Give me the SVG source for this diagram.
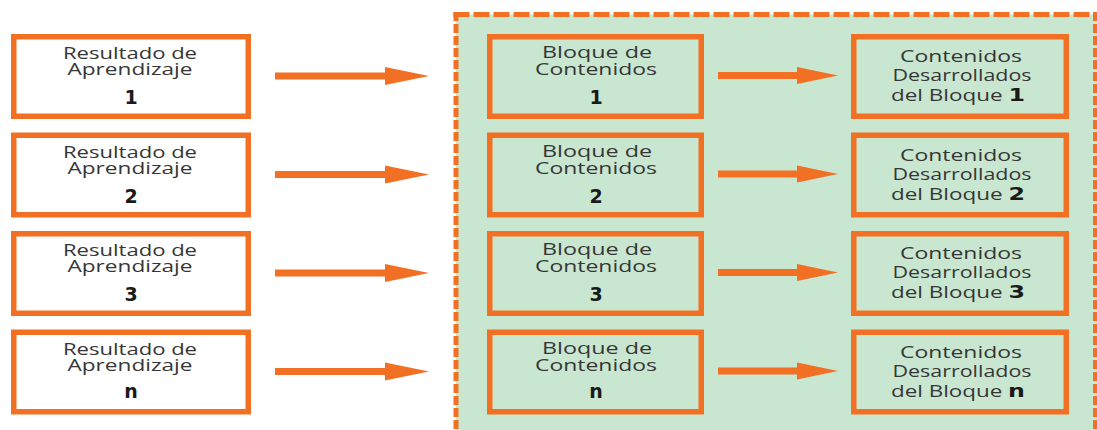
<svg xmlns="http://www.w3.org/2000/svg" width="1097" height="430" viewBox="0 0 1097 430">
<defs>
<style>
.box{fill:#ffffff;stroke:#f27024;stroke-width:5.5}
.gbox{fill:#c9e6d1;stroke:#f27024;stroke-width:5.5}
.t{font-family:"Open Sans","Noto Sans",sans-serif;font-size:17px;fill:#363636;text-anchor:middle}
.n{font-family:"DejaVu Sans","Noto Sans",sans-serif;font-size:19px;font-weight:bold;fill:#1a1a1a;text-anchor:middle}
.ni{font-family:"DejaVu Sans","Noto Sans",sans-serif;font-size:18px;font-weight:bold;fill:#1a1a1a}
.shaft{stroke:#f27024;stroke-width:7;fill:none}
.head{fill:#f27024}
.dash{stroke:#f27024;stroke-width:5;fill:none}
</style>
</defs>
<rect x="0" y="0" width="1097" height="430" fill="#ffffff"/>
<g id="region">
<rect x="456" y="14.5" width="641" height="420" fill="#c9e6d1"/>
<line class="dash" x1="453.5" y1="14.5" x2="1097" y2="14.5" stroke-dasharray="16,4"/>
<line class="dash" x1="456" y1="12" x2="456" y2="430" stroke-dasharray="9,3"/>
<line class="dash" x1="1095.5" y1="12" x2="1095.5" y2="430" stroke-dasharray="9,3"/>
</g>
<g id="connectors">
<g><line class="shaft" x1="275" y1="76" x2="390" y2="76"/><polygon class="head" points="385,67 429,76 385,85"/></g>
<g><line class="shaft" x1="718" y1="75.5" x2="800" y2="75.5"/><polygon class="head" points="797,67 838,75.5 797,84"/></g>
<g><line class="shaft" x1="275" y1="174.5" x2="390" y2="174.5"/><polygon class="head" points="385,165.5 429,174.5 385,183.5"/></g>
<g><line class="shaft" x1="718" y1="174" x2="800" y2="174"/><polygon class="head" points="797,165.5 838,174 797,182.5"/></g>
<g><line class="shaft" x1="275" y1="273" x2="390" y2="273"/><polygon class="head" points="385,264 429,273 385,282"/></g>
<g><line class="shaft" x1="718" y1="272.5" x2="800" y2="272.5"/><polygon class="head" points="797,264 838,272.5 797,281"/></g>
<g><line class="shaft" x1="275" y1="371.5" x2="390" y2="371.5"/><polygon class="head" points="385,362.5 429,371.5 385,380.5"/></g>
<g><line class="shaft" x1="718" y1="371" x2="800" y2="371"/><polygon class="head" points="797,362.5 838,371 797,379.5"/></g>
</g>
<g id="r1"><rect class="box" x="13.75" y="36.75" width="234.5" height="79.5"/><text class="t" x="130" y="59" textLength="134" lengthAdjust="spacingAndGlyphs">Resultado de</text><text class="t" x="130" y="75" textLength="125" lengthAdjust="spacingAndGlyphs">Aprendizaje</text><text class="n" x="131" y="104">1</text></g>
<g id="b1"><rect class="gbox" x="489.75" y="36.75" width="211.5" height="79.5"/><text class="t" x="597" y="58" textLength="110" lengthAdjust="spacingAndGlyphs">Bloque de</text><text class="t" x="596" y="75" textLength="122" lengthAdjust="spacingAndGlyphs">Contenidos</text><text class="n" x="596" y="104">1</text></g>
<g id="c1"><rect class="gbox" x="853.75" y="36.75" width="212.5" height="79.5"/><text class="t" x="961" y="62" textLength="122" lengthAdjust="spacingAndGlyphs">Contenidos</text><text class="t" x="962" y="81" textLength="139" lengthAdjust="spacingAndGlyphs">Desarrollados</text><text class="t" x="958" y="101" textLength="134" lengthAdjust="spacingAndGlyphs">del Bloque <tspan class="ni">1</tspan></text></g>
<g id="r2" transform="translate(0,98.5)"><rect class="box" x="13.75" y="36.75" width="234.5" height="79.5"/><text class="t" x="130" y="59" textLength="134" lengthAdjust="spacingAndGlyphs">Resultado de</text><text class="t" x="130" y="75" textLength="125" lengthAdjust="spacingAndGlyphs">Aprendizaje</text><text class="n" x="131" y="104">2</text></g>
<g id="b2" transform="translate(0,98.5)"><rect class="gbox" x="489.75" y="36.75" width="211.5" height="79.5"/><text class="t" x="597" y="58" textLength="110" lengthAdjust="spacingAndGlyphs">Bloque de</text><text class="t" x="596" y="75" textLength="122" lengthAdjust="spacingAndGlyphs">Contenidos</text><text class="n" x="596" y="104">2</text></g>
<g id="c2" transform="translate(0,98.5)"><rect class="gbox" x="853.75" y="36.75" width="212.5" height="79.5"/><text class="t" x="961" y="62" textLength="122" lengthAdjust="spacingAndGlyphs">Contenidos</text><text class="t" x="962" y="81" textLength="139" lengthAdjust="spacingAndGlyphs">Desarrollados</text><text class="t" x="958" y="101" textLength="134" lengthAdjust="spacingAndGlyphs">del Bloque <tspan class="ni">2</tspan></text></g>
<g id="r3" transform="translate(0,197)"><rect class="box" x="13.75" y="36.75" width="234.5" height="79.5"/><text class="t" x="130" y="59" textLength="134" lengthAdjust="spacingAndGlyphs">Resultado de</text><text class="t" x="130" y="75" textLength="125" lengthAdjust="spacingAndGlyphs">Aprendizaje</text><text class="n" x="131" y="104">3</text></g>
<g id="b3" transform="translate(0,197)"><rect class="gbox" x="489.75" y="36.75" width="211.5" height="79.5"/><text class="t" x="597" y="58" textLength="110" lengthAdjust="spacingAndGlyphs">Bloque de</text><text class="t" x="596" y="75" textLength="122" lengthAdjust="spacingAndGlyphs">Contenidos</text><text class="n" x="596" y="104">3</text></g>
<g id="c3" transform="translate(0,197)"><rect class="gbox" x="853.75" y="36.75" width="212.5" height="79.5"/><text class="t" x="961" y="62" textLength="122" lengthAdjust="spacingAndGlyphs">Contenidos</text><text class="t" x="962" y="81" textLength="139" lengthAdjust="spacingAndGlyphs">Desarrollados</text><text class="t" x="958" y="101" textLength="134" lengthAdjust="spacingAndGlyphs">del Bloque <tspan class="ni">3</tspan></text></g>
<g id="r4" transform="translate(0,295.5)"><rect class="box" x="13.75" y="36.75" width="234.5" height="79.5"/><text class="t" x="130" y="59" textLength="134" lengthAdjust="spacingAndGlyphs">Resultado de</text><text class="t" x="130" y="75" textLength="125" lengthAdjust="spacingAndGlyphs">Aprendizaje</text><text class="n" x="131" y="102">n</text></g>
<g id="b4" transform="translate(0,295.5)"><rect class="gbox" x="489.75" y="36.75" width="211.5" height="79.5"/><text class="t" x="597" y="58" textLength="110" lengthAdjust="spacingAndGlyphs">Bloque de</text><text class="t" x="596" y="75" textLength="122" lengthAdjust="spacingAndGlyphs">Contenidos</text><text class="n" x="596" y="102">n</text></g>
<g id="c4" transform="translate(0,295.5)"><rect class="gbox" x="853.75" y="36.75" width="212.5" height="79.5"/><text class="t" x="961" y="62" textLength="122" lengthAdjust="spacingAndGlyphs">Contenidos</text><text class="t" x="962" y="81" textLength="139" lengthAdjust="spacingAndGlyphs">Desarrollados</text><text class="t" x="958" y="101" textLength="134" lengthAdjust="spacingAndGlyphs">del Bloque <tspan class="ni">n</tspan></text></g>
</svg>
